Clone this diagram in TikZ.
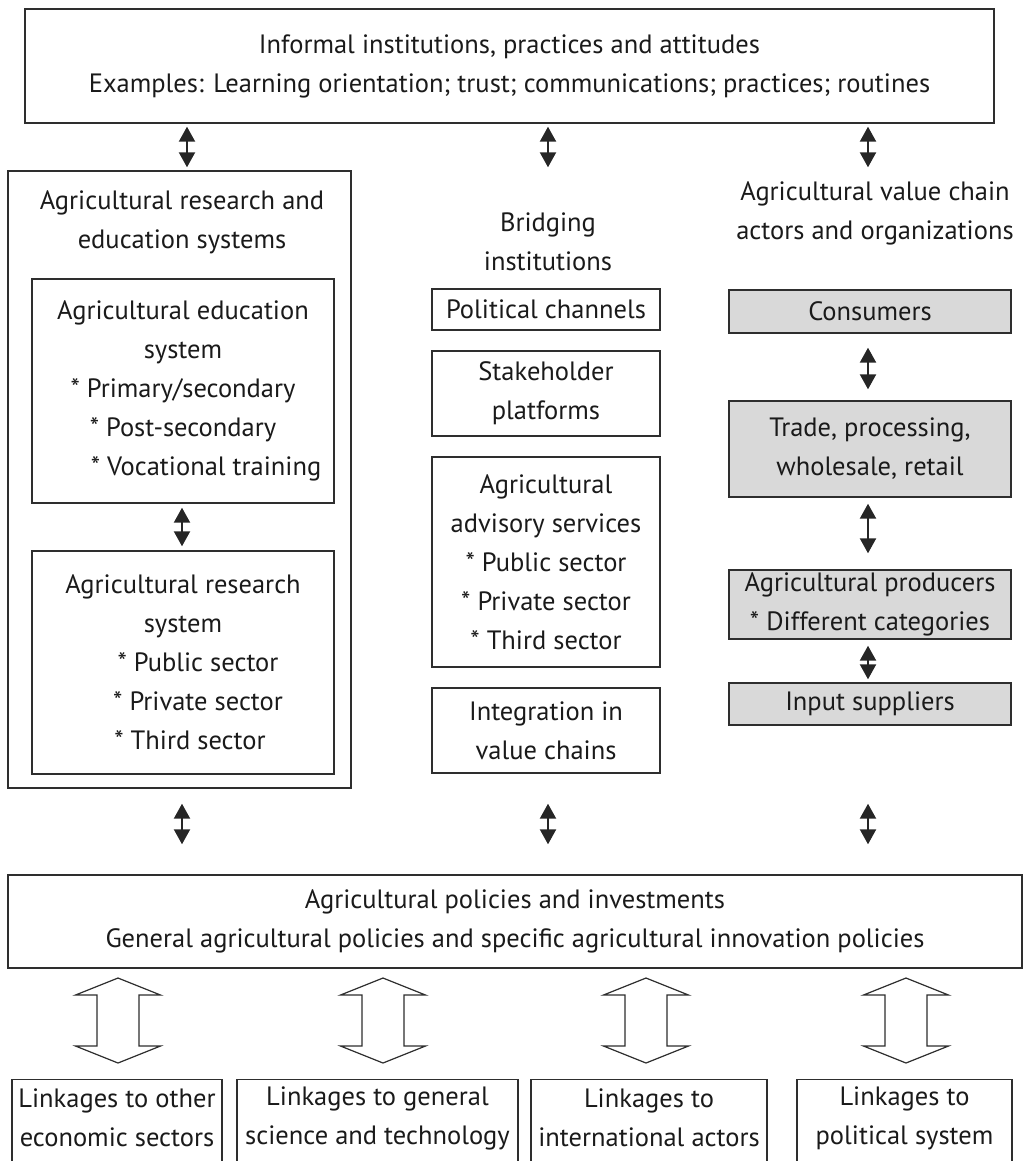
\documentclass[tikz,border=0pt]{standalone}
\usepackage{fontspec}
\setmainfont{PT Sans}
\usetikzlibrary{arrows.meta}
\definecolor{linec}{HTML}{2E2E2E}
\definecolor{textc}{HTML}{1A1A1A}
\definecolor{boxgray}{HTML}{D9D9D9}
\newcommand{\mfs}{\fontsize{26.5pt}{39pt}\selectfont}
\begin{document}
\begin{tikzpicture}[x=1pt,y=-1pt,
  box/.style={draw=linec, line width=1.4pt, inner sep=0pt, align=center, font=\mfs, text=textc},
  shaded/.style={box, fill=boxgray},
  plain/.style={inner sep=0pt, align=center, font=\mfs, text=textc},
  dbl/.style={{Triangle[width=16pt,length=15pt]}-{Triangle[width=16pt,length=15pt]}, line width=2.2pt, draw=black!85},
  hollow/.style={draw=linec, line width=1.2pt, fill=white, line join=miter}]
\useasboundingbox (0,0) rectangle (1030,1161);
\clip (0,0) rectangle (1030,1161);

% top box
\node[box, minimum width=969pt, minimum height=114pt] (top) at (509.5,66)
  {Informal institutions, practices and attitudes\\Examples: Learning orientation; trust; communications; practices; routines};

% left column
\node[box, minimum width=343pt, minimum height=617pt] (leftbox) at (179.5,479.5) {};
\node[plain] (lefttitle) at (182,222) {Agricultural research and\\education systems};
\node[box, minimum width=302pt, minimum height=224pt] (edu) at (183,391)
  {Agricultural education\\system\\* Primary/secondary\\* Post-secondary\\\hspace*{46pt}* Vocational training};
\node[box, minimum width=302pt, minimum height=223pt] (res) at (183,662.5)
  {Agricultural research\\system\\\hspace*{30pt}* Public sector\\\hspace*{30pt}* Private sector\\\hspace*{14pt}* Third sector};

% middle column
\node[plain] (bridge) at (548,242) {Bridging\\institutions};
\node[box, minimum width=228pt, minimum height=41pt] (pol1) at (546,309.5) {Political channels};
\node[box, minimum width=228pt, minimum height=85pt] (stake) at (546,393.5) {Stakeholder\\platforms};
\node[box, minimum width=228pt, minimum height=210pt] (adv) at (546,562)
  {Agricultural\\advisory services\\* Public sector\\* Private sector\\* Third sector};
\node[box, minimum width=228pt, minimum height=85pt] (integ) at (546,730.5) {Integration in\\value chains};

% right column
\node[plain] (vctitle) at (875,213) {Agricultural value chain\\actors and organizations};
\node[shaded, minimum width=282pt, minimum height=43pt] (cons) at (870,311.5) {Consumers};
\node[shaded, minimum width=282pt, minimum height=96pt] (trade) at (870,449) {Trade, processing,\\wholesale, retail};
\node[shaded, minimum width=282pt, minimum height=69pt] (prod) at (870,604.5) {Agricultural producers\\* Different categories};
\node[shaded, minimum width=282pt, minimum height=42pt] (input) at (870,704) {Input suppliers};

% policies box
\node[box, minimum width=1014pt, minimum height=93pt] (policy) at (515,921.5)
  {Agricultural policies and investments\\General agricultural policies and specific agricultural innovation policies};

% bottom boxes (cut by the lower edge)
\node[box, minimum width=210pt, minimum height=100pt, anchor=north] (l1) at (117,1079) {};
\node[box, minimum width=281pt, minimum height=100pt, anchor=north] (l2) at (377.5,1079) {};
\node[box, minimum width=236pt, minimum height=100pt, anchor=north] (l3) at (649,1079) {};
\node[box, minimum width=215pt, minimum height=100pt, anchor=north] (l4) at (904.5,1079) {};
\node[plain] (l1t) at (117,1118) {Linkages to other\\economic sectors};
\node[plain] (l2t) at (377.5,1118) {Linkages to general\\science and technology};
\node[plain] (l3t) at (649,1118) {Linkages to\\international actors};
\node[plain] (l4t) at (904.5,1118) {Linkages to\\political system};

% arrow x positions
\coordinate (ax1) at (187,0);
\coordinate (ax2) at (548,0);
\coordinate (ax3) at (868,0);
\coordinate (bx1) at (182,0);

% top arrows
\draw[dbl, shorten <=3pt, shorten >=3pt] (top.south -| ax1) -- (leftbox.north -| ax1);
\draw[dbl, shorten <=3pt, shorten >=3pt] (top.south -| ax2) -- (leftbox.north -| ax2);
\draw[dbl, shorten <=3pt, shorten >=3pt] (top.south -| ax3) -- (leftbox.north -| ax3);

% inner left arrow
\draw[dbl, shorten <=4pt, shorten >=4pt] (edu.south -| bx1) -- (res.north -| bx1);

% right column arrows
\draw[dbl, shorten <=14pt, shorten >=11pt] (cons.south -| ax3) -- (trade.north -| ax3);
\draw[dbl, shorten <=6pt, shorten >=16pt] (trade.south -| ax3) -- (prod.north -| ax3);
\draw[dbl, shorten <=6pt, shorten >=3pt] (prod.south -| ax3) -- (input.north -| ax3);

% bottom arrows
\draw[dbl, shorten <=15pt, shorten >=30pt] (leftbox.south -| bx1) -- (policy.north -| bx1);
\draw[dbl, shorten <=15pt, shorten >=30pt] (leftbox.south -| ax2) -- (policy.north -| ax2);
\draw[dbl, shorten <=15pt, shorten >=30pt] (leftbox.south -| ax3) -- (policy.north -| ax3);

% hollow double arrows
\foreach \cx in {118,383,646,906}{
  \draw[hollow] (\cx,978) -- (\cx+42.5,995) -- (\cx+21,995) -- (\cx+21,1046) -- (\cx+42.5,1046)
    -- (\cx,1063) -- (\cx-42.5,1046) -- (\cx-21,1046) -- (\cx-21,995) -- (\cx-42.5,995) -- cycle;
}
\end{tikzpicture}
\end{document}
